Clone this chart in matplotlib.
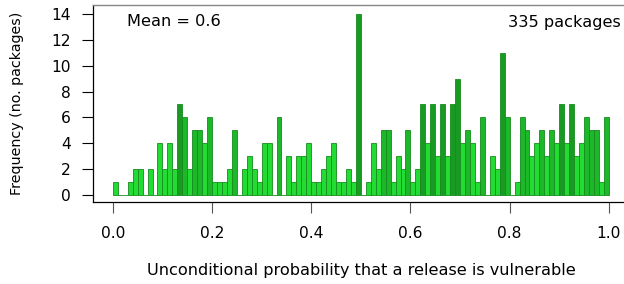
import matplotlib
matplotlib.use("Agg")
import matplotlib.pyplot as plt
import numpy as np

plt.rcParams['font.family'] = ['DejaVu Sans']

# Histogram of 335 packages, 100 bins of width 0.01 on [0, 1]
bin_left = [i / 100 for i in range(100)]
counts = [1, 0, 0, 1, 2, 2, 0, 2, 0, 4, 2, 4, 2, 7, 6, 2, 5, 5, 4, 6,
          1, 1, 1, 2, 5, 0, 2, 3, 2, 1, 4, 4, 0, 6, 0, 3, 1, 3, 3, 4,
          1, 1, 2, 3, 4, 1, 1, 2, 1, 14, 0, 1, 4, 2, 5, 5, 1, 3, 2, 5,
          1, 2, 7, 4, 7, 3, 7, 3, 7, 9, 4, 5, 4, 1, 6, 0, 3, 2, 11, 6,
          0, 1, 6, 5, 3, 4, 5, 3, 5, 4, 7, 4, 7, 3, 4, 6, 5, 5, 1, 6]
xticks = [0.0, 0.2, 0.4, 0.6, 0.8, 1.0]
yticks = [0, 2, 4, 6, 8, 10, 12, 14]
mean_text = "Mean = 0.6"
n_text = "335 packages"


def shade(h):
    if h >= 7:
        return '#199a22'
    if h >= 5:
        return '#1cb82a'
    return '#22dc33'


colors = [shade(h) for h in counts]

FS_TICK = 11.2
FS_TEXT = 11.6
FS_YLAB = 10.3
W, H = 624, 284
fig = plt.figure(figsize=(W / 100, H / 100), dpi=100)
ax_left, ax_right = 93, 93 + 1.08 * 496
ax_top, ax_bottom = 5, 201.5
ax = fig.add_axes([ax_left / W, 1 - ax_bottom / H, (ax_right - ax_left) / W, (ax_bottom - ax_top) / H])

ax.bar(bin_left, counts, width=0.01, align='edge', color=colors,
       edgecolor='#178c1e', linewidth=0.6)

ax.set_xlim(-0.04, 1.04)
ax.set_ylim(-0.52, 14.7)
ax.set_xticks(xticks)
ax.set_xticklabels([f"{t:.1f}" for t in xticks])
ax.set_yticks(yticks)
ax.set_yticklabels([str(t) for t in yticks])
ax.tick_params(axis='x', length=8, width=0.8, pad=10, labelsize=FS_TICK, color='#555555')
ax.tick_params(axis='y', length=8, width=0.8, pad=8, labelsize=FS_TICK)

ax.spines['right'].set_visible(False)
ax.spines['top'].set_color('#888888')
ax.spines['top'].set_linewidth(1.0)
ax.spines['left'].set_linewidth(0.9)
ax.spines['bottom'].set_linewidth(0.9)

fig.text(127 / W, 1 - 22 / H, mean_text, ha='left', va='center', fontsize=FS_TEXT)
fig.text(621 / W, 1 - 22 / H, n_text, ha='right', va='center', fontsize=FS_TEXT)

fig.text(361 / W, 1 - 270 / H, "Unconditional probability that a release is vulnerable",
         ha='center', va='center', fontsize=FS_TEXT)
fig.text(17 / W, 1 - 103 / H, "Frequency (no. packages)", ha='center', va='center',
         rotation=90, fontsize=FS_YLAB)

fig.savefig("out.png", dpi=100, facecolor='white')
